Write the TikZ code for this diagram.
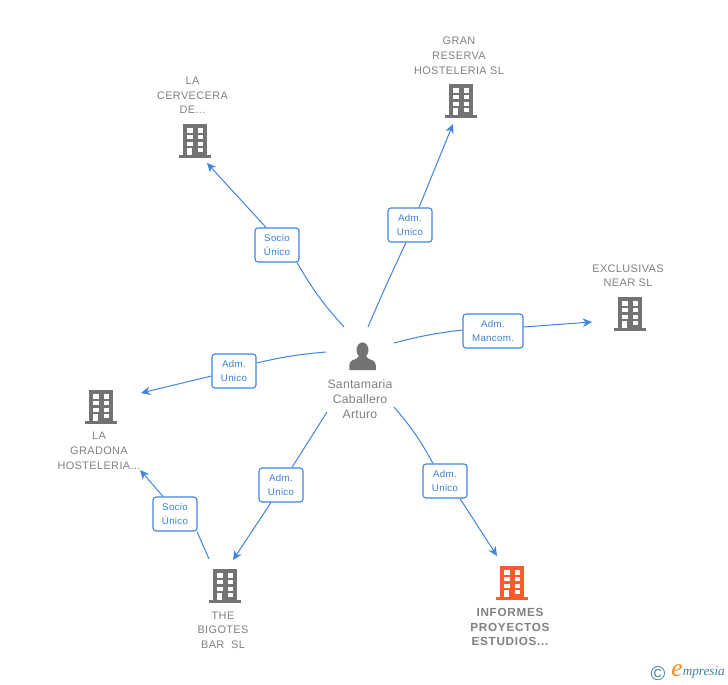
\documentclass[tikz,border=0pt]{standalone}
\usepackage{fontspec}
\setmainfont{Liberation Sans}
\newfontfamily\logofont{Liberation Serif}
\usetikzlibrary{arrows.meta}
\definecolor{edgeblue}{HTML}{3F84E0}
\definecolor{labblue}{HTML}{3A7FD8}
\definecolor{txtgray}{HTML}{808080}
\definecolor{icongray}{HTML}{737373}
\definecolor{iconorange}{HTML}{FF5B2B}
\definecolor{logoteal}{HTML}{3F7F95}
\definecolor{logoorange}{HTML}{F28A1E}
\tikzset{
  x=0.75pt,y=-0.75pt,
  lab/.style={draw=edgeblue,line width=0.8pt,rounded corners=2.2pt,fill=white,text=labblue,
    font=\fontsize{7.3pt}{11.2pt}\selectfont\addfontfeatures{LetterSpace=3},align=center,inner sep=0pt,minimum height=25.5pt},
  labn/.style={lab,minimum width=33pt},
  labw/.style={lab,minimum width=45pt},
  conn/.style={draw=edgeblue,line width=0.75pt},
  arr/.style={conn,-{Stealth[length=7pt,width=6.5pt]}},
  nametext/.style={text=txtgray,font=\fontsize{8.2pt}{11.1pt}\selectfont\addfontfeatures{LetterSpace=3.5},align=center,inner sep=0pt},
  persontext/.style={text=txtgray,font=\fontsize{9.2pt}{11.1pt}\selectfont\addfontfeatures{LetterSpace=2},align=center,inner sep=0pt},
  namebold/.style={text=txtgray,align=center,inner sep=0pt,font=\fontsize{8.8pt}{11.1pt}\selectfont\bfseries\addfontfeatures{LetterSpace=6}},
  bldgbox/.style={minimum width=24pt,minimum height=25pt,inner sep=0pt}
}
\newcommand{\bldg}[4]{%
  \node[bldgbox] (#1) at (#2,#3) {};
  \begin{scope}[shift={(#2,#3)}]
    \fill[#4] (-11.7,-17) rectangle (11.7,15);
    \fill[#4] (-16,14) rectangle (16,16.7);
    \foreach \cx in {-7.7,2.7}{\foreach \cy in {-12.7,-6.3,0.7}{\fill[white] (\cx,\cy) rectangle ++(5.2,4.5);}}
    \fill[white] (-7.7,6.5) rectangle (-2.7,14);
    \fill[white] (2.7,6.5) rectangle (7.9,11.3);
  \end{scope}}
\begin{document}
\begin{tikzpicture}
\useasboundingbox (0,0) rectangle (728,685);
% person
\node[minimum width=22pt,minimum height=22pt,inner sep=0pt] (person) at (363,356) {};
\fill[icongray] (362.5,350) ellipse (6 and 7.6);
\fill[icongray] (349.3,370) .. controls (349,363) and (350,361.5) .. (352,360.5) .. controls (355,359) and (358,359) .. (359,356) -- (366,356) .. controls (367,359) and (370,359) .. (373,360.5) .. controls (375,361.5) and (376,363) .. (376,370) -- cycle;
\node[persontext] (personname) at (360,399) {Santamaria\\Caballero\\Arturo};
% buildings
\bldg{cerv}{195}{141}{icongray}
\bldg{gran}{461}{101}{icongray}
\bldg{excl}{630}{314}{icongray}
\bldg{grad}{101}{407}{icongray}
\bldg{bigo}{225}{586}{icongray}
\bldg{info}{512}{583}{iconorange}
\node[nametext] (cervt) at (192.5,95.3) {LA\\CERVECERA\\DE...};
\node[nametext] (grant) at (459,55.5) {GRAN\\RESERVA\\HOSTELERIA SL};
\node[nametext] (exclt) at (628,275.8) {EXCLUSIVAS\\NEAR SL};
\node[nametext] (gradt) at (99,451) {LA\\GRADONA\\HOSTELERIA...};
\node[nametext] (bigot) at (223,630.2) {THE\\BIGOTES\\BAR\ \ SL};
\node[namebold] (infot) at (510,627) {INFORMES\\PROYECTOS\\ESTUDIOS...};
% connector ends
\coordinate (s1) at (344,327); \coordinate (e1) at (207,163);
\coordinate (s2) at (368,327); \coordinate (e2) at (453,124);
\coordinate (s3) at (394,343); \coordinate (e3) at (592,322);
\coordinate (s4) at (326,352); \coordinate (e4) at (141,393);
\coordinate (s5) at (327,412); \coordinate (e5) at (233,560);
\coordinate (s6) at (394,407); \coordinate (e6) at (497,556);
\coordinate (s7) at (209,559); \coordinate (e7) at (140,470);
% labels
\node[labn] (l1) at (277,245) {Socio\\Único};
\node[labn] (l2) at (410,225) {Adm.\\Unico};
\node[labw] (l3) at (493,331) {Adm.\\Mancom.};
\node[labn] (l4) at (234,371) {Adm.\\Unico};
\node[labn] (l5) at (281,485) {Adm.\\Unico};
\node[labn] (l6) at (445,481) {Adm.\\Unico};
\node[labn] (l7) at (175,514) {Socio\\Único};
% connectors
\draw[conn] (s1) to[bend left=6] ([xshift=15pt]l1.south);
\draw[arr] ([xshift=-8.25pt]l1.north) -- (e1);
\draw[conn] (s2) to[bend left=1] ([xshift=-3pt]l2.south);
\draw[arr] ([xshift=6.75pt]l2.north) -- (e2);
\draw[conn] (s3) to[bend left=4] ([yshift=0.75pt]l3.west);
\draw[arr] ([yshift=3pt]l3.east) -- (e3);
\draw[conn] (s4) to[bend right=4] ([yshift=6pt]l4.east);
\draw[arr] ([yshift=-3.75pt]l4.west) -- (e4);
\draw[conn] (s5) -- ([xshift=8.25pt]l5.north);
\draw[arr] ([xshift=-7.5pt]l5.south) -- (e5);
\draw[conn] (s6) to[bend left=6] ([xshift=-9pt]l6.north);
\draw[arr] ([xshift=11.25pt]l6.south) -- (e6);
\draw[conn] (s7) -- ([xshift=16.5pt]l7.south);
\draw[arr] ([xshift=-9pt]l7.north) -- (e7);
% logo
\node[text=logoteal,inner sep=0pt,font=\fontsize{15pt}{15pt}\selectfont] (logoc) at (658,673.5) {\textcopyright};
\node[text=logoorange,inner sep=0pt,font=\logofont\fontsize{19pt}{19pt}\selectfont\itshape] (logoe) at (677,671) {e};
\node[text=logoteal,inner sep=0pt,anchor=west,font=\logofont\fontsize{9.9pt}{10pt}\selectfont\itshape] (logot) at (682.5,673) {mpresia};
\end{tikzpicture}
\end{document}
